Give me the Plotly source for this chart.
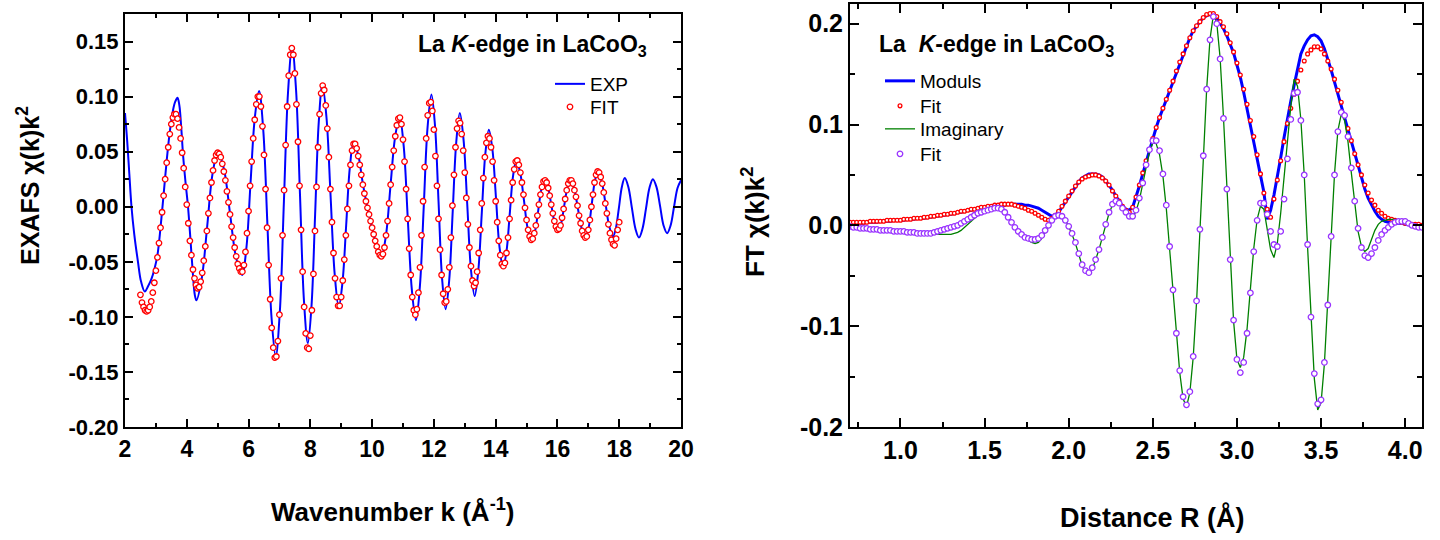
import plotly.graph_objects as go

W, H = 1440, 540

# ---------------- Left panel: EXAFS chi(k)k^2 ----------------
# EXP curve, read at extrema and intermediate points (k in 1/Angstrom)
exp_k = [2.00, 2.07, 2.14, 2.21, 2.30, 2.42, 2.52, 2.64, 2.75, 2.85, 2.95, 3.05, 3.15, 3.25, 3.35,
         3.45, 3.55, 3.62, 3.70, 3.76, 3.82, 3.88, 3.96, 4.04, 4.12, 4.20, 4.26, 4.31,
         4.485, 4.66, 4.835, 5.01, 5.205, 5.40, 5.595, 5.79, 5.928, 6.065, 6.203, 6.34,
         6.475, 6.61, 6.745, 6.88, 7.013, 7.145, 7.278, 7.41, 7.538, 7.665, 7.793, 7.92,
         8.038, 8.155, 8.273, 8.39, 8.523, 8.655, 8.788, 8.92, 9.04, 9.16, 9.28, 9.40,
         9.55, 9.70, 9.85, 10.00, 10.15, 10.30, 10.448, 10.595, 10.743, 10.89,
         11.023, 11.155, 11.288, 11.42, 11.545, 11.67, 11.795, 11.92, 12.035, 12.15, 12.265, 12.38,
         12.495, 12.61, 12.725, 12.84, 12.96, 13.08, 13.20, 13.32, 13.435, 13.55, 13.665, 13.78,
         13.895, 14.01, 14.125, 14.24, 14.348, 14.455, 14.563, 14.67, 14.793, 14.915, 15.038, 15.16,
         15.268, 15.375, 15.483, 15.59, 15.698, 15.805, 15.913, 16.02, 16.12, 16.22, 16.32, 16.42,
         16.543, 16.665, 16.788, 16.91, 17.01, 17.11, 17.21, 17.31, 17.433, 17.555, 17.678, 17.80,
         17.895, 17.99, 18.085, 18.18, 18.295, 18.41, 18.525, 18.64, 18.753, 18.865, 18.978, 19.09,
         19.205, 19.32, 19.435, 19.55, 19.663, 19.775, 19.888, 20.00]
exp_chi = [0.085, 0.060, 0.030, 0.000, -0.025, -0.050, -0.068, -0.077, -0.072, -0.066, -0.057, -0.044, -0.019, 0.011, 0.042,
           0.068, 0.087, 0.095, 0.099, 0.092, 0.072, 0.047, 0.022, 0.000, -0.030, -0.062, -0.080, -0.085,
           -0.065, -0.018, 0.030, 0.050, 0.034, -0.006, -0.046, -0.062, -0.038, 0.022, 0.081, 0.105,
           0.070, -0.016, -0.101, -0.136, -0.095, 0.005, 0.104, 0.145, 0.106, 0.011, -0.085, -0.124,
           -0.090, -0.007, 0.077, 0.111, 0.081, 0.010, -0.061, -0.091, -0.069, -0.017, 0.036, 0.058,
           0.047, 0.021, -0.001, -0.019, -0.036, -0.045, -0.026, 0.019, 0.063, 0.082,
           0.055, -0.011, -0.076, -0.103, -0.073, -0.001, 0.072, 0.102, 0.074, 0.005, -0.065, -0.093,
           -0.067, -0.004, 0.059, 0.085, 0.061, 0.002, -0.057, -0.081, -0.059, -0.006, 0.048, 0.070,
           0.052, 0.008, -0.037, -0.055, -0.041, -0.007, 0.028, 0.042, 0.031, 0.006, -0.020, -0.031,
           -0.023, -0.004, 0.016, 0.024, 0.017, 0.001, -0.015, -0.022, -0.015, 0.001, 0.017, 0.024,
           0.016, -0.002, -0.020, -0.028, -0.019, 0.002, 0.023, 0.032, 0.023, 0.003, -0.018, -0.027,
           -0.019, -0.001, 0.018, 0.026, 0.018, -0.001, -0.020, -0.028, -0.020, -0.002, 0.017, 0.025,
           0.018, 0.001, -0.017, -0.024, -0.017, 0.000, 0.017, 0.024]

# FIT points, one every 0.05 1/Angstrom starting at k = 2.50
fit_k_start, fit_k_step = 2.50, 0.05
fit_chi = [
    -0.080, -0.087, -0.091, -0.094, -0.095, -0.094, -0.091, -0.086, -0.078, -0.069,   # 2.50
    -0.058, -0.046, -0.033, -0.019, -0.005, 0.010, 0.025, 0.040, 0.054, 0.066,        # 3.00
    0.075, 0.081, 0.084, 0.084, 0.080, 0.072, 0.062, 0.049, 0.035, 0.018,             # 3.50
    0.002, -0.015, -0.031, -0.044, -0.057, -0.065, -0.071, -0.074, -0.073, -0.068,    # 4.00
    -0.060, -0.049, -0.036, -0.022, -0.006, 0.008, 0.022, 0.033, 0.042, 0.047,        # 4.50
    0.049, 0.048, 0.045, 0.039, 0.032, 0.024, 0.014, 0.004, -0.007, -0.018,           # 5.00
    -0.028, -0.037, -0.045, -0.052, -0.056, -0.059, -0.059, -0.053, -0.041, -0.024,   # 5.50
    -0.004, 0.019, 0.041, 0.062, 0.079, 0.093, 0.100, 0.100, 0.091, 0.073,            # 6.00
    0.047, 0.016, -0.019, -0.053, -0.084, -0.110, -0.128, -0.137, -0.136, -0.122,     # 6.50
    -0.098, -0.065, -0.026, 0.015, 0.056, 0.091, 0.119, 0.138, 0.144, 0.138,          # 7.00
    0.121, 0.093, 0.059, 0.019, -0.021, -0.059, -0.091, -0.115, -0.128, -0.129,       # 7.50
    -0.117, -0.094, -0.061, -0.022, 0.018, 0.054, 0.084, 0.103, 0.110, 0.106,         # 8.00
    0.092, 0.071, 0.045, 0.016, -0.014, -0.042, -0.065, -0.082, -0.090, -0.090,       # 8.50
    -0.082, -0.067, -0.048, -0.026, -0.002, 0.019, 0.038, 0.051, 0.057, 0.057,        # 9.00
    0.053, 0.046, 0.038, 0.029, 0.020, 0.012, 0.005, -0.001, -0.007, -0.013,          # 9.50
    -0.019, -0.025, -0.031, -0.036, -0.041, -0.044, -0.045, -0.043, -0.037, -0.026,   # 10.00
    -0.013, 0.003, 0.020, 0.036, 0.051, 0.064, 0.074, 0.080, 0.081, 0.075,            # 10.50
    0.061, 0.041, 0.016, -0.011, -0.038, -0.062, -0.082, -0.094, -0.098, -0.093,      # 11.00
    -0.078, -0.055, -0.026, 0.005, 0.036, 0.062, 0.083, 0.094, 0.095, 0.087,          # 11.50
    0.070, 0.046, 0.019, -0.011, -0.039, -0.062, -0.079, -0.087, -0.086, -0.075,      # 12.00
    -0.055, -0.028, 0.001, 0.029, 0.054, 0.071, 0.078, 0.076, 0.066, 0.051,           # 12.50
    0.031, 0.008, -0.016, -0.037, -0.054, -0.067, -0.072, -0.069, -0.059, -0.042,     # 13.00
    -0.021, 0.003, 0.026, 0.045, 0.058, 0.064, 0.062, 0.054, 0.041, 0.024,            # 13.50
    0.005, -0.014, -0.031, -0.044, -0.052, -0.054, -0.051, -0.042, -0.028, -0.011,    # 14.00
    0.006, 0.022, 0.034, 0.041, 0.042, 0.038, 0.031, 0.022, 0.011, -0.001,            # 14.50
    -0.012, -0.021, -0.027, -0.030, -0.029, -0.024, -0.017, -0.008, 0.002, 0.011,     # 15.00
    0.018, 0.023, 0.024, 0.022, 0.017, 0.010, 0.002, -0.006, -0.013, -0.018,          # 15.50
    -0.021, -0.020, -0.017, -0.010, -0.002, 0.007, 0.015, 0.021, 0.024, 0.024,        # 16.00
    0.021, 0.015, 0.009, 0.001, -0.008, -0.015, -0.022, -0.026, -0.028, -0.027,       # 16.50
    -0.021, -0.012, 0.000, 0.011, 0.022, 0.029, 0.032, 0.031, 0.027, 0.021,           # 17.00
    0.013, 0.003, -0.006, -0.016, -0.024, -0.030, -0.034, -0.035, -0.029, -0.021,     # 17.50
    -0.014,                                                                           # 18.00
]

# ---------------- Right panel: FT of chi(k)k^2 ----------------
# all four series read every 0.02 Angstrom starting at R = 0.70
r_start, r_step = 0.70, 0.02
mod_exp = [
    0.002, 0.002, 0.002, 0.002, 0.002, 0.003, 0.003, 0.003, 0.003, 0.004,   # 0.70
    0.004, 0.004, 0.004, 0.005, 0.005, 0.005, 0.005, 0.006, 0.006, 0.006,   # 0.90
    0.007, 0.007, 0.007, 0.008, 0.008, 0.009, 0.009, 0.010, 0.010, 0.011,   # 1.10
    0.011, 0.012, 0.013, 0.013, 0.014, 0.015, 0.015, 0.016, 0.017, 0.017,   # 1.30
    0.018, 0.018, 0.019, 0.019, 0.020, 0.020, 0.020, 0.021, 0.021, 0.021,   # 1.50
    0.021, 0.021, 0.020, 0.020, 0.019, 0.018, 0.017, 0.015, 0.013, 0.011,   # 1.70
    0.009, 0.010, 0.013, 0.018, 0.023, 0.028, 0.034, 0.039, 0.043, 0.047,   # 1.90
    0.049, 0.051, 0.051, 0.051, 0.050, 0.048, 0.044, 0.040, 0.035, 0.029,   # 2.10
    0.024, 0.019, 0.016, 0.015, 0.018, 0.028, 0.039, 0.051, 0.063, 0.074,   # 2.30
    0.086, 0.097, 0.107, 0.116, 0.125, 0.134, 0.143, 0.152, 0.161, 0.170,   # 2.50
    0.178, 0.186, 0.193, 0.198, 0.202, 0.206, 0.208, 0.209, 0.209, 0.206,   # 2.70
    0.201, 0.195, 0.188, 0.180, 0.171, 0.159, 0.147, 0.132, 0.116, 0.100,   # 2.90
    0.083, 0.067, 0.051, 0.033, 0.006, 0.015, 0.030, 0.047, 0.067, 0.087,   # 3.10
    0.106, 0.123, 0.139, 0.156, 0.170, 0.178, 0.184, 0.188, 0.189, 0.187,   # 3.30
    0.183, 0.175, 0.165, 0.154, 0.142, 0.130, 0.118, 0.106, 0.094, 0.082,   # 3.50
    0.070, 0.058, 0.046, 0.036, 0.027, 0.020, 0.014, 0.009, 0.006, 0.004,   # 3.70
    0.003, 0.003, 0.002, 0.002, 0.002, 0.001, 0.001, 0.001, 0.001, 0.000,   # 3.90
    0.000,                                                                  # 4.10
]
mod_fit = [
    0.003, 0.003, 0.003, 0.003, 0.003, 0.003, 0.004, 0.004, 0.004, 0.004,   # 0.70
    0.004, 0.005, 0.005, 0.005, 0.005, 0.005, 0.006, 0.006, 0.006, 0.007,   # 0.90
    0.007, 0.007, 0.008, 0.008, 0.009, 0.009, 0.010, 0.010, 0.011, 0.011,   # 1.10
    0.012, 0.012, 0.013, 0.014, 0.014, 0.015, 0.016, 0.016, 0.017, 0.018,   # 1.30
    0.018, 0.019, 0.019, 0.020, 0.020, 0.021, 0.021, 0.021, 0.021, 0.020,   # 1.50
    0.019, 0.018, 0.017, 0.015, 0.014, 0.012, 0.010, 0.008, 0.006, 0.005,   # 1.70
    0.007, 0.010, 0.014, 0.019, 0.024, 0.029, 0.034, 0.039, 0.043, 0.046,   # 1.90
    0.048, 0.049, 0.050, 0.050, 0.049, 0.047, 0.044, 0.040, 0.034, 0.029,   # 2.10
    0.024, 0.019, 0.015, 0.013, 0.018, 0.028, 0.040, 0.052, 0.064, 0.075,   # 2.30
    0.086, 0.097, 0.107, 0.116, 0.125, 0.134, 0.143, 0.153, 0.162, 0.170,   # 2.50
    0.178, 0.186, 0.193, 0.198, 0.202, 0.206, 0.209, 0.210, 0.210, 0.207,   # 2.70
    0.202, 0.197, 0.190, 0.181, 0.172, 0.161, 0.149, 0.135, 0.120, 0.104,   # 2.90
    0.088, 0.070, 0.051, 0.032, 0.016, 0.008, 0.026, 0.045, 0.064, 0.083,   # 3.10
    0.101, 0.116, 0.130, 0.143, 0.154, 0.163, 0.170, 0.174, 0.177, 0.177,   # 3.30
    0.175, 0.170, 0.163, 0.155, 0.145, 0.134, 0.122, 0.109, 0.096, 0.084,   # 3.50
    0.071, 0.060, 0.050, 0.040, 0.032, 0.025, 0.020, 0.015, 0.012, 0.009,   # 3.70
    0.007, 0.006, 0.005, 0.004, 0.003, 0.002, 0.002, 0.001, 0.001, 0.001,   # 3.90
    0.000,                                                                  # 4.10
]
imag_exp = [
    -0.002, -0.002, -0.003, -0.003, -0.003, -0.004, -0.004, -0.004, -0.005, -0.005,   # 0.70
    -0.005, -0.005, -0.006, -0.006, -0.006, -0.006, -0.007, -0.007, -0.007, -0.007,   # 0.90
    -0.008, -0.008, -0.008, -0.008, -0.009, -0.009, -0.009, -0.009, -0.009, -0.009,   # 1.10
    -0.009, -0.008, -0.007, -0.005, -0.002, 0.001, 0.004, 0.007, 0.010, 0.012,        # 1.30
    0.014, 0.015, 0.016, 0.017, 0.017, 0.016, 0.013, 0.008, 0.003, -0.002,            # 1.50
    -0.006, -0.010, -0.013, -0.015, -0.017, -0.018, -0.017, -0.013, -0.007, -0.001,   # 1.70
    0.005, 0.010, 0.012, 0.011, 0.006, -0.001, -0.009, -0.018, -0.029, -0.040,        # 1.90
    -0.047, -0.049, -0.044, -0.035, -0.024, -0.012, 0.001, 0.012, 0.020, 0.024,       # 2.10
    0.022, 0.017, 0.012, 0.008, 0.008, 0.014, 0.025, 0.040, 0.058, 0.073,             # 2.30
    0.082, 0.081, 0.070, 0.049, 0.017, -0.022, -0.065, -0.108, -0.146, -0.172,        # 2.50
    -0.180, -0.166, -0.131, -0.076, -0.006, 0.068, 0.135, 0.185, 0.209, 0.201,        # 2.70
    0.166, 0.107, 0.036, -0.035, -0.095, -0.133, -0.141, -0.131, -0.103, -0.063,      # 2.90
    -0.023, 0.006, 0.019, 0.016, -0.003, -0.024, -0.032, -0.018, 0.012, 0.048,        # 3.10
    0.085, 0.118, 0.145, 0.138, 0.105, 0.050, -0.022, -0.095, -0.152, -0.183,         # 3.30
    -0.176, -0.137, -0.078, -0.010, 0.051, 0.094, 0.110, 0.104, 0.083, 0.052,         # 3.50
    0.020, -0.006, -0.021, -0.026, -0.023, -0.014, -0.005, 0.001, 0.004, 0.005,       # 3.70
    0.006, 0.006, 0.006, 0.005, 0.004, 0.003, 0.002, 0.001, 0.000, -0.001,            # 3.90
    -0.001,                                                                           # 4.10
]
imag_fit = [
    -0.001, -0.002, -0.002, -0.003, -0.003, -0.003, -0.004, -0.004, -0.004, -0.005,   # 0.70
    -0.005, -0.005, -0.005, -0.006, -0.006, -0.006, -0.006, -0.007, -0.007, -0.007,   # 0.90
    -0.008, -0.008, -0.008, -0.008, -0.008, -0.007, -0.006, -0.005, -0.004, -0.003,   # 1.10
    -0.002, -0.001, 0.000, 0.002, 0.004, 0.006, 0.008, 0.010, 0.012, 0.013,          # 1.30
    0.014, 0.015, 0.016, 0.017, 0.017, 0.016, 0.013, 0.008, 0.003, -0.002,            # 1.50
    -0.006, -0.009, -0.012, -0.013, -0.014, -0.014, -0.013, -0.010, -0.005, 0.000,    # 1.70
    0.005, 0.009, 0.010, 0.009, 0.005, -0.001, -0.008, -0.017, -0.028, -0.039,        # 1.90
    -0.045, -0.047, -0.042, -0.034, -0.024, -0.012, 0.001, 0.013, 0.021, 0.024,       # 2.10
    0.022, 0.017, 0.013, 0.009, 0.009, 0.015, 0.027, 0.042, 0.060, 0.075,             # 2.30
    0.084, 0.084, 0.074, 0.051, 0.020, -0.021, -0.064, -0.107, -0.144, -0.170,        # 2.50
    -0.178, -0.165, -0.130, -0.075, -0.004, 0.069, 0.135, 0.184, 0.207, 0.200,        # 2.70
    0.165, 0.106, 0.036, -0.034, -0.094, -0.133, -0.146, -0.136, -0.107, -0.067,      # 2.90
    -0.026, 0.005, 0.022, 0.022, 0.011, -0.006, -0.019, -0.021, -0.006, 0.026,        # 3.10
    0.066, 0.105, 0.131, 0.132, 0.104, 0.050, -0.019, -0.091, -0.147, -0.177,         # 3.30
    -0.173, -0.136, -0.079, -0.011, 0.050, 0.093, 0.112, 0.109, 0.088, 0.057,         # 3.50
    0.024, -0.003, -0.022, -0.030, -0.032, -0.028, -0.022, -0.015, -0.009, -0.005,    # 3.70
    -0.002, 0.001, 0.003, 0.004, 0.004, 0.004, 0.002, 0.000, -0.001, -0.002,          # 3.90
    -0.002,                                                                           # 4.10
]

# ---------------- Tick labels ----------------
left_xtickvals = [2, 4, 6, 8, 10, 12, 14, 16, 18, 20]
left_xticktext = ["2", "4", "6", "8", "10", "12", "14", "16", "18", "20"]
left_ytickvals = [-0.20, -0.15, -0.10, -0.05, 0.00, 0.05, 0.10, 0.15]
left_yticktext = ["-0.20", "-0.15", "-0.10", "-0.05", "0.00", "0.05", "0.10", "0.15"]
right_xtickvals = [1.0, 1.5, 2.0, 2.5, 3.0, 3.5, 4.0]
right_xticktext = ["1.0", "1.5", "2.0", "2.5", "3.0", "3.5", "4.0"]
right_ytickvals = [-0.2, -0.1, 0.0, 0.1, 0.2]
right_yticktext = ["-0.2", "-0.1", "0.0", "0.1", "0.2"]

assert len(exp_k) == len(exp_chi)
assert len(fit_chi) == 311
for s in (mod_exp, mod_fit, imag_exp, imag_fit):
    assert len(s) == 171, len(s)

fit_k = [round(fit_k_start + fit_k_step * i, 2) for i in range(len(fit_chi))]
r_grid = [round(r_start + r_step * i, 2) for i in range(len(mod_exp))]


def px(x):
    """window pixel -> paper fraction (horizontal)"""
    return x / W


def py(y):
    """window pixel -> paper fraction (vertical)"""
    return 1 - y / H


FONT = "Liberation Sans"

fig = go.Figure()
fig.add_trace(go.Scatter(x=exp_k, y=exp_chi, mode="lines", name="EXP",
                         line=dict(color="#0000FF", width=2, shape="spline", smoothing=1),
                         xaxis="x", yaxis="y", legend="legend"))
fig.add_trace(go.Scatter(x=fit_k, y=fit_chi, mode="markers", name="FIT",
                         marker=dict(symbol="circle", size=5.5, color="white",
                                     line=dict(color="#FF0000", width=1.3)),
                         xaxis="x", yaxis="y", legend="legend2"))
fig.add_trace(go.Scatter(x=r_grid, y=mod_exp, mode="lines", name="Moduls",
                         line=dict(color="#0000FF", width=3),
                         xaxis="x2", yaxis="y2", legend="legend3"))
fig.add_trace(go.Scatter(x=r_grid, y=mod_fit, mode="markers", name="Fit",
                         marker=dict(symbol="circle", size=3.8, color="white",
                                     line=dict(color="#FF0000", width=1.3)),
                         xaxis="x2", yaxis="y2", legend="legend4"))
fig.add_trace(go.Scatter(x=r_grid, y=imag_exp, mode="lines", name="Imaginary",
                         line=dict(color="#008000", width=1.3),
                         xaxis="x2", yaxis="y2", legend="legend5"))
fig.add_trace(go.Scatter(x=r_grid, y=imag_fit, mode="markers", name="Fit",
                         marker=dict(symbol="circle", size=5.5, color="white",
                                     line=dict(color="#9933FF", width=1.3)),
                         xaxis="x2", yaxis="y2", legend="legend6"))


def leg(x_px, y_px):
    return dict(x=px(x_px), y=py(y_px), xanchor="left", yanchor="middle",
                bgcolor="rgba(0,0,0,0)", borderwidth=0, tracegroupgap=0,
                font=dict(family=FONT, size=19, color="black"))


axis_common = dict(showline=True, linecolor="black", linewidth=2, mirror="allticks",
                   ticks="inside", tickcolor="black", tickwidth=1.5, showgrid=False,
                   zeroline=False, automargin=False, tickmode="array")

tickfont_left_x = dict(family=FONT, size=23, color="black", weight="bold")
tickfont_left_y = dict(family=FONT, size=22, color="black", weight="bold")
tickfont_right = dict(family=FONT, size=25, color="black", weight="bold")

fig.update_layout(
    width=W, height=H,
    margin=dict(l=0, r=0, t=0, b=0),
    paper_bgcolor="white", plot_bgcolor="white",
    font=dict(family=FONT, color="black"),
    xaxis=dict(domain=[px(125), px(681)], range=[2, 20], anchor="y",
               tickvals=left_xtickvals, ticktext=left_xticktext, ticklen=8,
               tickfont=tickfont_left_x,
               minor=dict(ticks="inside", ticklen=4, tick0=2, dtick=1,
                          tickcolor="black", tickwidth=1.5),
               **axis_common),
    yaxis=dict(domain=[py(427), py(14)], range=[-0.2, 0.175], anchor="x",
               tickvals=left_ytickvals, ticktext=left_yticktext, ticklen=8,
               tickfont=tickfont_left_y,
               minor=dict(ticks="inside", ticklen=4, tick0=0, dtick=0.025,
                          tickcolor="black", tickwidth=1.5),
               **axis_common),
    xaxis2=dict(domain=[px(850), px(1422)], range=[0.7, 4.1], anchor="y2",
                tickvals=right_xtickvals, ticktext=right_xticktext, ticklen=9,
                tickfont=tickfont_right,
                minor=dict(ticks="inside", ticklen=5, tick0=1.0, dtick=0.25,
                           tickcolor="black", tickwidth=1.5),
                **axis_common),
    yaxis2=dict(domain=[py(427), py(3.5)], range=[-0.2, 0.22], anchor="x2",
                tickvals=right_ytickvals, ticktext=right_yticktext, ticklen=9,
                tickfont=tickfont_right,
                minor=dict(ticks="inside", ticklen=5, tick0=0, dtick=0.05,
                           tickcolor="black", tickwidth=1.5),
                **axis_common),
    legend=leg(550, 84),
    legend2=leg(550, 107),
    legend3=leg(880, 81),
    legend4=leg(880, 106),
    legend5=leg(880, 129),
    legend6=leg(880, 154),
    showlegend=True,
)

bold = dict(family=FONT, color="black", weight="bold")
annotations = [
    dict(text="EXAFS χ(k)k<sup>2</sup>", x=px(28), y=py(186), textangle=-90,
         font=dict(size=25, **bold)),
    dict(text="Wavenumber k (Å<sup>-1</sup>)", x=px(393), y=py(510),
         font=dict(size=26, **bold)),
    dict(text="FT χ(k)k<sup>2</sup>", x=px(753), y=py(222), textangle=-90,
         font=dict(size=26, **bold)),
    dict(text="Distance R (Å)", x=px(1152), y=py(517),
         font=dict(size=27, **bold)),
    dict(text="La <i>K</i>-edge in LaCoO<sub>3</sub>", x=px(416), y=py(46),
         xanchor="left", font=dict(size=23, **bold)),
    dict(text="La\u00a0 <i>K</i>-edge in LaCoO<sub>3</sub>", x=px(877), y=py(46),
         xanchor="left", font=dict(size=23, **bold)),
]
for a in annotations:
    a.setdefault("xanchor", "center")
    a.update(xref="paper", yref="paper", yanchor="middle", showarrow=False)
fig.update_layout(annotations=annotations)

# the page's default 8 px body margin would shift the figure; remove it
fig.write_html("out.html",
               config={"displayModeBar": False},
               post_script="document.body.style.margin='0';document.body.style.overflow='hidden';")
